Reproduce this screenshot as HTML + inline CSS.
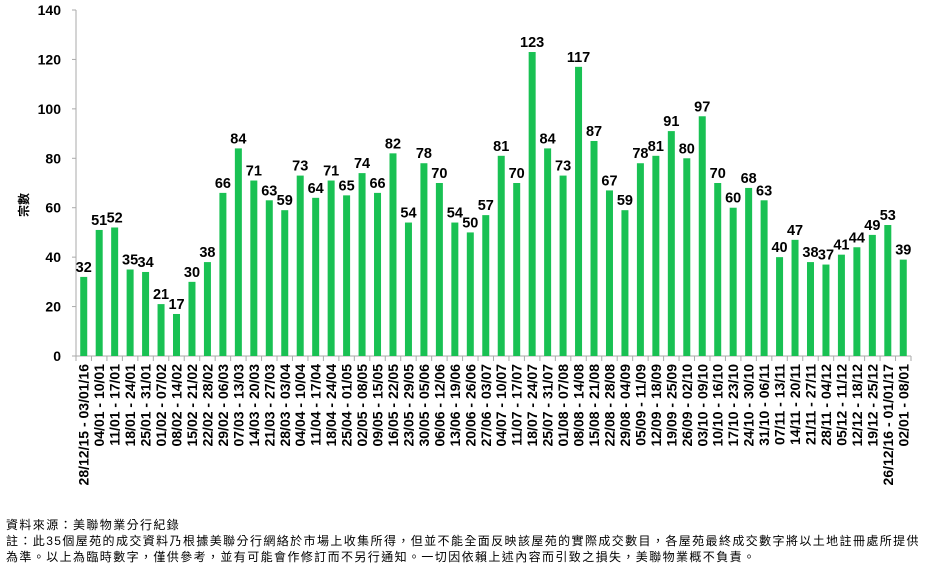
<!DOCTYPE html>
<html><head><meta charset="utf-8"><style>
body{margin:0;background:#fff;width:932px;height:566px;overflow:hidden;font-family:"Liberation Sans","Noto Sans CJK TC",sans-serif}
.foot{position:absolute;left:6px;font-size:12px;letter-spacing:1.4px;color:#000;white-space:nowrap;font-family:"Liberation Sans","Noto Sans CJK TC",sans-serif}
</style></head><body>
<svg id="chart" width="932" height="566" style="position:absolute;left:0;top:0" xmlns="http://www.w3.org/2000/svg"></svg>
<div class="foot" style="top:516px">資料來源：美聯物業分行紀錄</div>
<div class="foot" style="top:532px">註：此35個屋苑的成交資料乃根據美聯分行網絡於市場上收集所得，但並不能全面反映該屋苑的實際成交數目，各屋苑最終成交數字將以土地註冊處所提供</div>
<div class="foot" style="top:548px">為準。以上為臨時數字，僅供參考，並有可能會作修訂而不另行通知。一切因依賴上述內容而引致之損失，美聯物業概不負責。</div>
<script>
const categories=["28/12/15 - 03/01/16","04/01 - 10/01","11/01 - 17/01","18/01 - 24/01","25/01 - 31/01","01/02 - 07/02","08/02 - 14/02","15/02 - 21/02","22/02 - 28/02","29/02 - 06/03","07/03 - 13/03","14/03 - 20/03","21/03 - 27/03","28/03 - 03/04","04/04 - 10/04","11/04 - 17/04","18/04 - 24/04","25/04 - 01/05","02/05 - 08/05","09/05 - 15/05","16/05 - 22/05","23/05 - 29/05","30/05 - 05/06","06/06 - 12/06","13/06 - 19/06","20/06 - 26/06","27/06 - 03/07","04/07 - 10/07","11/07 - 17/07","18/07 - 24/07","25/07 - 31/07","01/08 - 07/08","08/08 - 14/08","15/08 - 21/08","22/08 - 28/08","29/08 - 04/09","05/09 - 11/09","12/09 - 18/09","19/09 - 25/09","26/09 - 02/10","03/10 - 09/10","10/10 - 16/10","17/10 - 23/10","24/10 - 30/10","31/10 - 06/11","07/11 - 13/11","14/11 - 20/11","21/11 - 27/11","28/11 - 04/12","05/12 - 11/12","12/12 - 18/12","19/12 - 25/12","26/12/16 - 01/01/17","02/01 - 08/01"];
const values=[32,51,52,35,34,21,17,30,38,66,84,71,63,59,73,64,71,65,74,66,82,54,78,70,54,50,57,81,70,123,84,73,117,87,67,59,78,81,91,80,97,70,60,68,63,40,47,38,37,41,44,49,53,39];
const yTicks=[0,20,40,60,80,100,120,140];
const NS="http://www.w3.org/2000/svg";
const svg=document.getElementById('chart');
const X0=76,X1=911,Y0=356,Y1=10,YMAX=140;
const slot=(X1-X0)/categories.length;
const y=v=>Y0-(v/YMAX)*(Y0-Y1);
const xc=i=>X0+slot*(i+0.5);
function mk(t,a){const e=document.createElementNS(NS,t);for(const k in a)e.setAttribute(k,a[k]);svg.appendChild(e);return e;}
let ax=mk('line',{x1:X0,y1:Y1,x2:X0,y2:Y0,stroke:'#aaa','stroke-width':1});


let bx=mk('line',{x1:X0-4,y1:Y0,x2:X1,y2:Y0,stroke:'#aaa','stroke-width':1});


yTicks.forEach(t=>{
  mk('line',{x1:X0-4,y1:y(t),x2:X0,y2:y(t),stroke:'#aaa'});
  const tx=mk('text',{x:61,y:y(t)+5,'text-anchor':'end','font-size':14,'font-weight':'bold',fill:'#000'});
  tx.textContent=t;
  
  
});
for(let i=0;i<=categories.length;i++){mk('line',{x1:X0+slot*i,y1:Y0,x2:X0+slot*i,y2:Y0+5,stroke:'#aaa'});}
const yt=mk('text',{x:0,y:0,transform:'translate(28,205) rotate(-90)','text-anchor':'middle','font-size':12,'font-weight':'bold',fill:'#000'});
yt.textContent='宗數';


values.forEach((v,i)=>{
  const r=mk('rect',{x:xc(i)-3.5,y:y(v),width:7,height:Y0-y(v),fill:'#19c153'});
  
  
  const t=mk('text',{x:xc(i),y:y(v)-5,'text-anchor':'middle','font-size':14.5,'font-weight':'bold',fill:'#000'});
  t.textContent=v;
  
  
  const c=mk('text',{transform:`translate(${xc(i)+5},364) rotate(-90)`,'text-anchor':'end','font-size':14,'font-weight':'bold',fill:'#000'});
  c.textContent=categories[i];
  
  
});
</script>
</body></html>
